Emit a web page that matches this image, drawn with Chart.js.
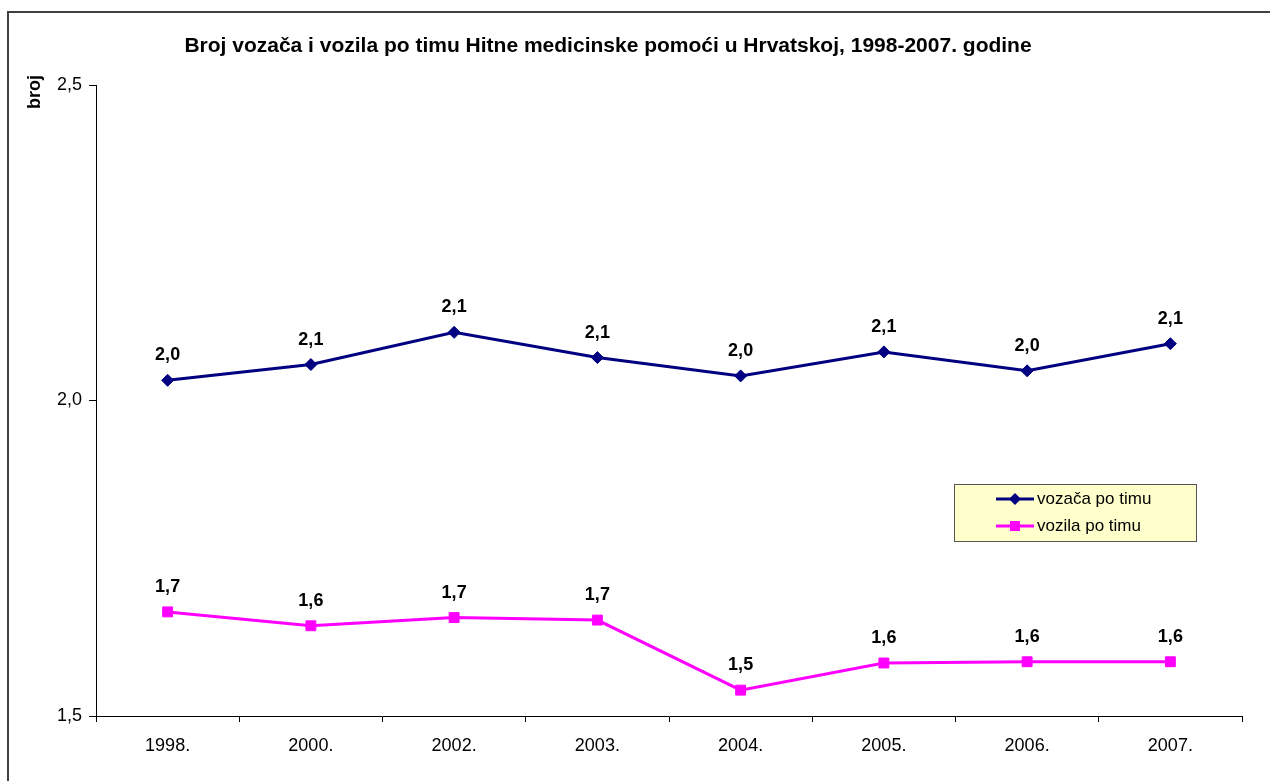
<!DOCTYPE html>
<html>
<head>
<meta charset="utf-8">
<script src="https://cdn.jsdelivr.net/npm/chart.js@4.4.0/dist/chart.umd.min.js"></script>
<style>
html,body{margin:0;padding:0;background:#fff;overflow:hidden;}
#wrap{position:absolute;left:0;top:0;width:1270px;height:781px;}
</style>
</head>
<body>
<div id="wrap"><canvas id="c" width="1270" height="781"></canvas></div>
<script>
const titleText = 'Broj vozača i vozila po timu Hitne medicinske pomoći u Hrvatskoj, 1998-2007. godine';
const yAxisTitle = 'broj';
const categories = ['1998.', '2000.', '2002.', '2003.', '2004.', '2005.', '2006.', '2007.'];
const vozacaLabel = 'vozača po timu';
const vozilaLabel = 'vozila po timu';
const vozacaPoTimu = [2.032, 2.057, 2.108, 2.068, 2.039, 2.077, 2.047, 2.090];
const vozilaPoTimu = [1.665, 1.643, 1.656, 1.652, 1.541, 1.584, 1.586, 1.586];
const yMin = 1.5, yMax = 2.5, yStep = 0.5;

const FONT = '"Liberation Sans", Arial, sans-serif';
const fmt = v => Number(v).toFixed(1).replace('.', ',');

const decorPlugin = {
  id: 'decor',
  beforeDraw(chart) {
    const ctx = chart.ctx;
    ctx.save();
    ctx.fillStyle = '#fff';
    ctx.fillRect(0, 0, chart.width, chart.height);
    ctx.strokeStyle = '#404040';
    ctx.lineWidth = 2;
    ctx.strokeRect(8, 12, 1400, 900);
    ctx.restore();
  },
  afterDraw(chart) {
    const ctx = chart.ctx;
    ctx.save();
    // title
    ctx.fillStyle = '#000';
    ctx.font = 'bold 21px ' + FONT;
    ctx.textAlign = 'center';
    ctx.textBaseline = 'middle';
    ctx.fillText(titleText, 608, 46);
    // y axis title
    ctx.save();
    ctx.translate(35, 92);
    ctx.rotate(-Math.PI / 2);
    ctx.font = 'bold 18px ' + FONT;
    ctx.fillText(yAxisTitle, 0, 0);
    ctx.restore();
    // legend
    const lx = 954, ly = 484, lw = 242, lh = 57;
    ctx.fillStyle = '#FFFFCC';
    ctx.fillRect(lx, ly, lw, lh);
    ctx.strokeStyle = '#555';
    ctx.lineWidth = 1;
    ctx.strokeRect(lx + 0.5, ly + 0.5, lw, lh);
    const items = chart.data.datasets;
    const rows = [499, 526];
    items.forEach((ds, i) => {
      const y = rows[i];
      ctx.strokeStyle = ds.borderColor;
      ctx.lineWidth = 3;
      ctx.beginPath();
      ctx.moveTo(996, y);
      ctx.lineTo(1034, y);
      ctx.stroke();
      ctx.fillStyle = ds.pointBackgroundColor;
      if (ds.pointStyle === 'rectRot') {
        ctx.beginPath();
        ctx.moveTo(1015 - 6, y); ctx.lineTo(1015, y - 6); ctx.lineTo(1015 + 6, y); ctx.lineTo(1015, y + 6);
        ctx.closePath(); ctx.fill();
      } else {
        ctx.fillRect(1015 - 5, y - 5, 10, 10);
      }
      ctx.fillStyle = '#000';
      ctx.font = '17px ' + FONT;
      ctx.textAlign = 'left';
      ctx.textBaseline = 'middle';
      ctx.fillText(ds.label, 1037, y);
    });
    ctx.restore();
  },
  afterDatasetsDraw(chart) {
    const ctx = chart.ctx;
    ctx.save();
    ctx.fillStyle = '#000';
    ctx.font = 'bold 18px ' + FONT;
    ctx.textAlign = 'center';
    ctx.textBaseline = 'middle';
    chart.data.datasets.forEach((ds, di) => {
      const meta = chart.getDatasetMeta(di);
      meta.data.forEach((pt, i) => {
        ctx.fillText(fmt(ds.data[i]), pt.x, pt.y - 25);
      });
    });
    ctx.restore();
  }
};

new Chart(document.getElementById('c'), {
  type: 'line',
  data: {
    labels: categories,
    datasets: [
      {
        label: vozacaLabel,
        data: vozacaPoTimu,
        borderColor: '#000080',
        backgroundColor: '#000080',
        pointBackgroundColor: '#000080',
        pointBorderColor: '#000080',
        borderWidth: 3,
        pointStyle: 'rectRot',
        pointRadius: 6,
        pointBorderWidth: 1,
        tension: 0
      },
      {
        label: vozilaLabel,
        data: vozilaPoTimu,
        borderColor: '#FF00FF',
        backgroundColor: '#FF00FF',
        pointBackgroundColor: '#FF00FF',
        pointBorderColor: '#FF00FF',
        borderWidth: 3,
        pointStyle: 'rect',
        pointRadius: 7,
        pointBorderWidth: 1,
        tension: 0
      }
    ]
  },
  options: {
    responsive: false,
    animation: false,
    devicePixelRatio: 1,
    layout: { padding: { top: 85, right: 28, left: 0, bottom: 0 } },
    plugins: { legend: { display: false }, title: { display: false }, tooltip: { enabled: false } },
    scales: {
      x: {
        offset: true,
        afterFit(s) { s.height = 65; },
        grid: { display: true, drawOnChartArea: false, drawTicks: true, tickLength: 6, color: '#000', offset: true },
        border: { display: true, color: '#000', width: 1 },
        ticks: { color: '#000', font: { family: FONT, size: 18 }, padding: 13, maxRotation: 0, autoSkip: false }
      },
      y: {
        min: yMin, max: yMax,
        afterFit(s) { s.width = 96; },
        grid: { display: true, drawOnChartArea: false, drawTicks: true, tickLength: 7, color: '#000' },
        border: { display: true, color: '#000', width: 1 },
        ticks: { stepSize: yStep, color: '#000', font: { family: FONT, size: 18 }, padding: 7, callback: v => fmt(v) }
      }
    }
  },
  plugins: [decorPlugin]
});
</script>
</body>
</html>
